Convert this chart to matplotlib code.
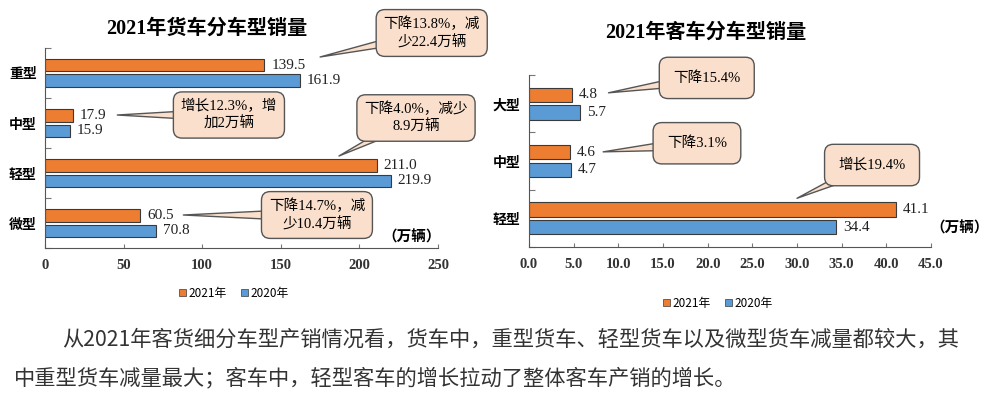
import numpy as np
import matplotlib.pyplot as plt
from matplotlib.patches import Patch

# 货车
truck_types = ["重型", "中型", "轻型", "微型"]
truck_2021 = [139.5, 17.9, 211.0, 60.5]
truck_2020 = [161.9, 15.9, 219.9, 70.8]
truck_ticks = [0, 50, 100, 150, 200, 250]

# 客车
bus_types = ["大型", "中型", "轻型"]
bus_2021 = [4.8, 4.6, 41.1]
bus_2020 = [5.7, 4.7, 34.4]
bus_ticks = [0, 5, 10, 15, 20, 25, 30, 35, 40, 45]

# callouts: text, tip (value, row), box centre (value, row)
truck_notes = [
    ("下降13.8%，减\n少22.4万辆", (175, -0.32), (246, -0.8)),
    ("增长12.3%，增\n加2万辆", (46, 0.84), (117, 0.84)),
    ("下降4.0%，减少\n8.9万辆", (187, 1.66), (236, 0.9)),
    ("下降14.7%，减\n少10.4万辆", (88, 2.84), (173, 2.84)),
]
bus_notes = [
    ("下降15.4%", (8.9, -0.19), (19.9, -0.45)),
    ("下降3.1%", (8.3, 0.84), (18.8, 0.69)),
    ("增长19.4%", (30.0, 1.65), (38.4, 1.07)),
]

orange = "#ED7D31"
blue = "#5B9BD5"
note_fc = "#FAE0CC"
serif = ["Liberation Serif", "Noto Sans CJK SC"]
sans = ["Noto Sans CJK SC", "DejaVu Sans"]

fig = plt.figure(figsize=(10, 3.97), dpi=100)


def draw(ax, cats, v21, v20, ticks, fmt, notes, title, title_xy, unit_xy, leg_xy):
    y = np.arange(len(cats))
    h = 0.25
    ax.barh(y - 0.155, v21, height=h, color=orange, edgecolor="#3a3a3a", lw=0.8)
    ax.barh(y + 0.155, v20, height=h, color=blue, edgecolor="#3a3a3a", lw=0.8)
    for i in range(len(cats)):
        ax.annotate("%.1f" % v21[i], (v21[i], y[i] - 0.155), xytext=(5, 0),
                    textcoords="offset points", ha="left", va="center",
                    fontsize=11, family=serif, color="#222222")
        ax.annotate("%.1f" % v20[i], (v20[i], y[i] + 0.155), xytext=(5, 0),
                    textcoords="offset points", ha="left", va="center",
                    fontsize=11, family=serif, color="#222222")
    ax.set_ylim(len(cats) - 0.5, -0.5)
    ax.set_xlim(ticks[0], ticks[-1])
    ax.set_yticks(np.arange(len(cats) + 1) - 0.5)
    ax.set_yticklabels([])
    ax.set_yticks(y, minor=True)
    ax.set_yticklabels(cats, minor=True, family=sans, fontsize=10, fontweight="bold")
    ax.tick_params(axis="y", which="major", direction="in", length=4, color="#777777")
    ax.tick_params(axis="y", which="minor", length=0, pad=6)
    ax.set_xticks(ticks)
    ax.set_xticklabels([fmt % t for t in ticks], family=serif, fontsize=10.5,
                       fontweight="bold", color="#333333")
    ax.tick_params(axis="x", direction="in", length=3, color="#777777", pad=8)
    for s in ["top", "right"]:
        ax.spines[s].set_visible(False)
    for s in ["left", "bottom"]:
        ax.spines[s].set_color("#555555")
    for txt, tip, box in notes:
        pad = 0.5 if "\n" in txt else 0.95
        ax.annotate(txt, xy=tip, xytext=box, ha="center", va="center",
                    fontsize=10.5, family=serif, linespacing=1.3,
                    annotation_clip=False,
                    bbox=dict(boxstyle="round,pad=%.2f,rounding_size=0.6" % pad,
                              fc=note_fc, ec="#555555", lw=1),
                    arrowprops=dict(arrowstyle="wedge,tail_width=0.9",
                                    fc=note_fc, ec="#555555", lw=1,
                                    patchA=None, relpos=(0.5, 0.5),
                                    shrinkA=0, shrinkB=0))
    fig.text(title_xy[0], title_xy[1], title, ha="center", va="center",
             fontsize=14.5, fontweight="bold", family=serif)
    fig.text(unit_xy[0], unit_xy[1], "（万辆）", ha="center", va="center",
             fontsize=10.5, family=sans, fontweight="bold")
    handles = [Patch(fc=orange, ec="#3a3a3a", lw=0.5), Patch(fc=blue, ec="#3a3a3a", lw=0.5)]
    ax.legend(handles, ["2021年", "2020年"], loc="center", ncol=2, frameon=False,
              bbox_to_anchor=leg_xy, bbox_transform=fig.transFigure,
              handlelength=0.6, handleheight=0.6, handletextpad=0.2,
              columnspacing=1.2, prop={"family": sans, "size": 8.5})


ax1 = fig.add_axes([0.045, 0.3753, 0.393, 0.5038])
draw(ax1, truck_types, truck_2021, truck_2020, truck_ticks, "%d", truck_notes,
     "2021年货车分车型销量", (0.207, 1 - 29 / 397), (0.412, 1 - 237 / 397), (0.234, 1 - 293 / 397))

ax2 = fig.add_axes([0.529, 0.3778, 0.402, 0.4332])
draw(ax2, bus_types, bus_2021, bus_2020, bus_ticks, "%.1f", bus_notes,
     "2021年客车分车型销量", (0.706, 1 - 33 / 397), (0.960, 1 - 228 / 397), (0.718, 1 - 303 / 397))

fig.text(0.062, 1 - 340 / 397, "从2021年客货细分车型产销情况看，货车中，重型货车、轻型货车以及微型货车减量都较大，其",
         ha="left", va="center", fontsize=15.3, family=sans, color="#333333")
fig.text(0.014, 1 - 378 / 397, "中重型货车减量最大；客车中，轻型客车的增长拉动了整体客车产销的增长。",
         ha="left", va="center", fontsize=15.3, family=sans, color="#333333")

fig.savefig("out.png", dpi=100)
